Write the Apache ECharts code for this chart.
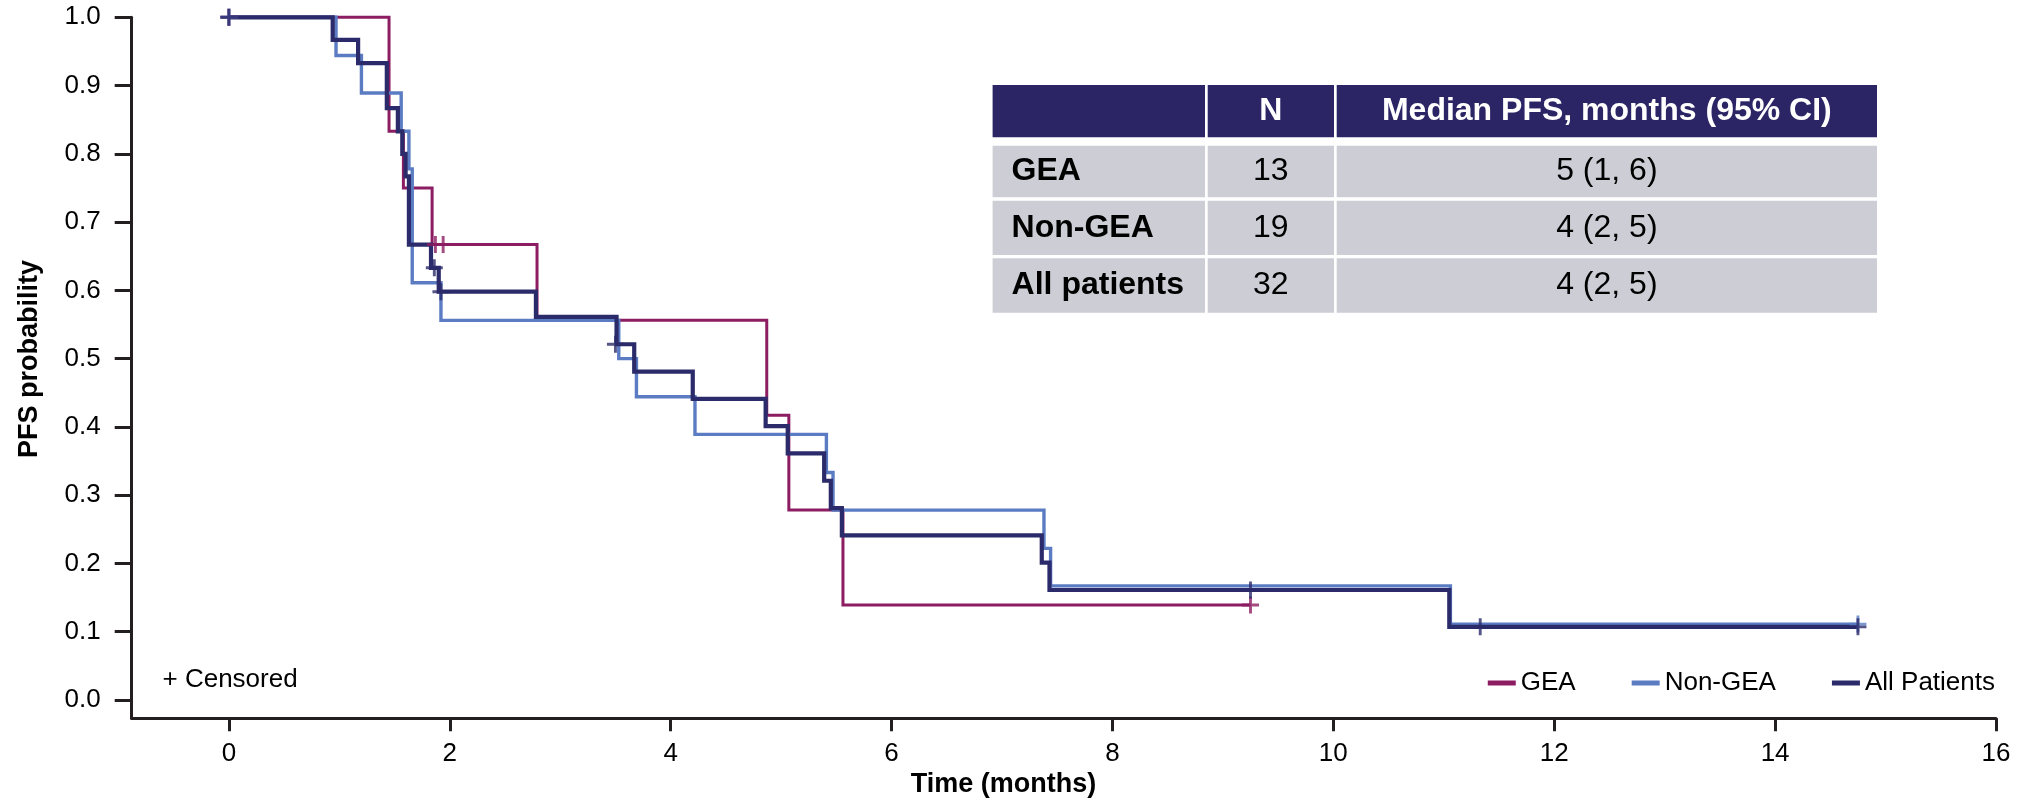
<!DOCTYPE html>
<html>
<head>
<meta charset="utf-8">
<script src="https://cdn.jsdelivr.net/npm/echarts@6/dist/echarts.min.js"></script>
<style>
html,body{margin:0;padding:0;background:#fff;}
#chart{width:2025px;height:805px;}
</style>
</head>
<body>
<div id="chart"></div>
<script>
// ---- Data ----
const xTicks = [0, 2, 4, 6, 8, 10, 12, 14, 16];
const yTicks = [0, 0.1, 0.2, 0.3, 0.4, 0.5, 0.6, 0.7, 0.8, 0.9, 1.0];

const seriesNames = ['GEA', 'Non-GEA', 'All Patients'];

const geaTime = [0, 1.45, 1.58, 1.84, 2.79, 4.87, 5.07, 5.56, 9.25];
const geaSurv = [1.0, 0.833, 0.75, 0.667, 0.556, 0.417, 0.278, 0.139, 0.139];
const geaCensTime = [0, 1.87, 1.94, 9.25];
const geaCensSurv = [1.0, 0.667, 0.667, 0.139];

const nonTime = [0, 0.97, 1.20, 1.56, 1.63, 1.66, 1.92, 3.53, 3.69, 4.22, 5.41, 5.47, 7.38, 7.44, 11.06, 14.75];
const nonSurv = [1.0, 0.944, 0.889, 0.833, 0.778, 0.611, 0.556, 0.5, 0.444, 0.389, 0.333, 0.278, 0.222, 0.167, 0.111, 0.111];
const nonCensTime = [0, 14.75];
const nonCensSurv = [1.0, 0.111];

const allTime = [0, 0.94, 1.17, 1.43, 1.53, 1.57, 1.60, 1.63, 1.83, 1.90, 2.78, 3.51, 3.67, 4.20, 4.86, 5.06, 5.39, 5.45, 5.55, 7.36, 7.43, 11.05, 14.75];
const allSurv = [1.0, 0.967, 0.933, 0.867, 0.833, 0.80, 0.767, 0.667, 0.633, 0.598, 0.561, 0.521, 0.481, 0.441, 0.401, 0.361, 0.321, 0.281, 0.241, 0.201, 0.161, 0.107, 0.107];
const allCensTime = [0, 1.86, 1.92, 3.50, 9.25, 11.33, 14.75];
const allCensSurv = [1.0, 0.633, 0.598, 0.521, 0.161, 0.107, 0.107];

const tableHeader = ['', 'N', 'Median PFS, months (95% CI)'];
const tableGroups = ['GEA', 'Non-GEA', 'All patients'];
const tableN = ['13', '19', '32'];
const tableMedian = ['5 (1, 6)', '4 (2, 5)', '4 (2, 5)'];

// ---- Styles ----
const colors = ['#8C1D62', '#5B7CC3', '#2B2A6A'];
const widths = [3, 3.4, 4.2];
const FONT = 'Liberation Sans, Arial, sans-serif';
const AXIS = '#231F20';

const zip = (a, b) => a.map((v, i) => [v, b[i]]);
const plusPath = 'path://M-10,-1.7 L10,-1.7 L10,1.7 L-10,1.7 Z M-1.7,-10 L1.7,-10 L1.7,10 L-1.7,10 Z';

const lineData = [zip(geaTime, geaSurv), zip(nonTime, nonSurv), zip(allTime, allSurv)];
const censData = [zip(geaCensTime, geaCensSurv), zip(nonCensTime, nonCensSurv), zip(allCensTime, allCensSurv)];

const series = [];
seriesNames.forEach((name, i) => {
  series.push({
    name: name, type: 'line', step: 'end', data: lineData[i],
    showSymbol: false, symbol: 'none', clip: false, z: 2 + i,
    color: colors[i],
    lineStyle: { color: colors[i], width: widths[i], cap: 'butt', join: 'miter' },
    itemStyle: { color: colors[i] }
  });
});
seriesNames.forEach((name, i) => {
  series.push({
    name: name + ' censored', type: 'scatter', data: censData[i],
    symbol: plusPath, symbolSize: 17, clip: false, z: 5 + i,
    itemStyle: { color: colors[i] }
  });
});

// ---- Table (graphic) ----
const graphic = [];
const colX = [[992.6, 1205], [1207.7, 1334], [1336.7, 1877]];
const rowY = [[85, 137.3], [145.7, 197.3], [200.7, 255], [258.3, 312.7]];
const headerColor = '#2B2566';
const rowColor = '#CDCED5';
const TFS = 32;
for (let r = 0; r < 4; r++) {
  for (let c = 0; c < 3; c++) {
    graphic.push({
      type: 'rect', silent: true,
      shape: { x: colX[c][0], y: rowY[r][0], width: colX[c][1] - colX[c][0], height: rowY[r][1] - rowY[r][0] },
      style: { fill: r === 0 ? headerColor : rowColor }
    });
    let txt;
    if (r === 0) txt = tableHeader[c];
    else txt = [tableGroups, tableN, tableMedian][c][r - 1];
    if (!txt) continue;
    const cy = (rowY[r][0] + rowY[r][1]) / 2;
    const left = (c === 0);
    graphic.push({
      type: 'text', silent: true,
      x: left ? colX[c][0] + 19 : (colX[c][0] + colX[c][1]) / 2,
      y: cy,
      style: {
        text: txt, fontFamily: FONT, fontSize: TFS,
        fontWeight: (r === 0 || c === 0) ? 'bold' : 'normal',
        fill: r === 0 ? '#FFFFFF' : '#000000',
        align: left ? 'left' : 'center', verticalAlign: 'middle'
      }
    });
  }
}
// axis titles & note
graphic.push({
  type: 'text', silent: true, x: 1003.5, y: 785,
  style: { text: 'Time (months)', fontFamily: FONT, fontSize: 27, fontWeight: 'bold', fill: '#000', align: 'center', verticalAlign: 'middle' }
});
graphic.push({
  type: 'text', silent: true, x: 30, y: 359, rotation: Math.PI / 2,
  style: { text: 'PFS probability', fontFamily: FONT, fontSize: 27, fontWeight: 'bold', fill: '#000', align: 'center', verticalAlign: 'middle' }
});
graphic.push({
  type: 'text', silent: true, x: 162.5, y: 680,
  style: { text: '+ Censored', fontFamily: FONT, fontSize: 26, fill: '#000', align: 'left', verticalAlign: 'middle' }
});

const chart = echarts.init(document.getElementById('chart'), null, { renderer: 'canvas' });
chart.setOption({
  animation: false,
  backgroundColor: '#ffffff',
  grid: { left: 131.7, right: 29, top: 17.3, bottom: 86.7, containLabel: false },
  legend: {
    data: seriesNames, right: 30, top: 670, orient: 'horizontal',
    icon: 'rect', itemWidth: 28, itemHeight: 5, itemGap: 56, padding: 0,
    textStyle: { fontFamily: FONT, fontSize: 26, color: '#000' }
  },
  xAxis: {
    type: 'value', min: -0.88, max: 16,
    axisLine: { show: true, onZero: false, lineStyle: { color: AXIS, width: 3 } },
    axisTick: { show: true, customValues: xTicks, length: 13, lineStyle: { color: AXIS, width: 3 } },
    axisLabel: { customValues: xTicks, fontFamily: FONT, fontSize: 26, color: '#000', margin: 23 },
    splitLine: { show: false }
  },
  yAxis: {
    type: 'value', min: -0.027, max: 1.0,
    axisLine: { show: true, onZero: false, lineStyle: { color: AXIS, width: 3 } },
    axisTick: { show: true, customValues: yTicks, length: 17, lineStyle: { color: AXIS, width: 3 } },
    axisLabel: { customValues: yTicks, formatter: v => v.toFixed(1), fontFamily: FONT, fontSize: 26, color: '#000', margin: 31 },
    splitLine: { show: false }
  },
  graphic: graphic,
  series: series
});
</script>
</body>
</html>
